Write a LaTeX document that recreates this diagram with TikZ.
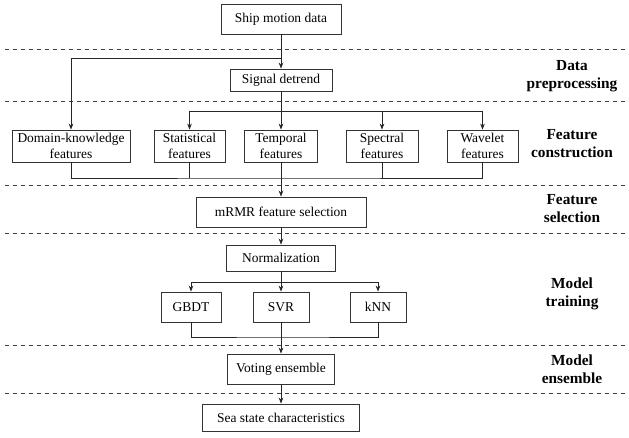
\documentclass[tikz,border=0pt]{standalone}
\usepackage{fontspec}
\setmainfont{Liberation Serif}
\usetikzlibrary{arrows.meta}
\begin{document}
\begin{tikzpicture}[x=0.75pt,y=-0.75pt,
        >={Stealth[length=4.5pt,width=3.5pt]},
        box/.style={draw=black!80,line width=0.65pt,align=center,inner sep=1pt,
            font=\fontsize{10.1}{11.6}\selectfont},
        stage/.style={align=center,font=\fontsize{11.5}{13.5}\selectfont\bfseries},
        link/.style={line width=0.6pt,black!85},
        sep/.style={dashed,line width=0.6pt,black!75}]
    \useasboundingbox (0,0) rectangle (629,437);
    % stage separators
    \foreach \y in {49.5,101.5,185,233,345,393}{
        \draw[sep] (5,\y) -- (627,\y);
    }
    % stage names
    \node[stage] (pre) at (572,76) {Data\\preprocessing};
    \node[stage] (con) at (572,144) {Feature\\construction};
    \node[stage] (sel) at (572,208.5) {Feature\\selection};
    \node[stage] (tra) at (572,294) {Model\\training};
    \node[stage] (ens) at (572,369.5) {Model\\ensemble};
    % boxes
    \node[box,minimum width=90pt,minimum height=22.5pt] (ship) at (281,19) {Ship motion data};
    \node[box,minimum width=76.5pt,minimum height=16.5pt] (detrend) at (281,80) {Signal detrend};
    \node[box,minimum width=88.5pt,minimum height=24pt] (domain) at (71,146) {Domain-knowledge\\features};
    \node[box,minimum width=53.25pt,minimum height=24pt] (stat) at (189.5,146) {Statistical\\features};
    \node[box,minimum width=54.75pt,minimum height=24pt] (temp) at (281,146) {Temporal\\features};
    \node[box,minimum width=54pt,minimum height=24pt] (spec) at (382,146) {Spectral\\features};
    \node[box,minimum width=53.25pt,minimum height=24pt] (wave) at (482.5,146) {Wavelet\\features};
    \node[box,minimum width=127.5pt,minimum height=22.5pt] (mrmr) at (281,212) {mRMR feature selection};
    \node[box,minimum width=81.75pt,minimum height=19.5pt] (norm) at (281,258) {Normalization};
    \node[box,minimum width=45pt,minimum height=22.5pt] (gbdt) at (191,307) {GBDT};
    \node[box,minimum width=42pt,minimum height=22.5pt] (svr) at (281,307) {SVR};
    \node[box,minimum width=42pt,minimum height=22.5pt] (knn) at (378,307) {kNN};
    \node[box,minimum width=80.25pt,minimum height=22.5pt] (vote) at (281,369) {Voting ensemble};
    \node[box,minimum width=117.75pt,minimum height=20.25pt] (sea) at (281,417.5) {Sea state characteristics};
    % junctions
    \coordinate (split) at (281,58);
    \coordinate (fan) at (281,111);
    \coordinate (merge) at (281,178);
    \coordinate (mfan) at (281,282);
    \coordinate (mmerge) at (281,337);
    % connectors
    \draw[link,->] (ship) -- (detrend);
    \draw[link,->] (split) -| (domain.north);
    \draw[link] (stat.north |- fan) -- (wave.north |- fan);
    \draw[link,->] (detrend) -- (temp);
    \foreach \n in {stat,spec,wave}{
        \draw[link,->] (\n.north |- fan) -- (\n.north);
    }
    \draw[link] (domain.south) |- (merge) -| (wave.south);
    \foreach \n in {stat,spec}{
        \draw[link] (\n.south) -- (\n.south |- merge);
    }
    \draw[link,->] (temp) -- (mrmr);
    \draw[link,->] (mrmr) -- (norm);
    \draw[link,->] (norm) -- (svr);
    \draw[link,->] (mfan) -| (gbdt.north);
    \draw[link,->] (mfan) -| (knn.north);
    \draw[link] (gbdt.south) |- (mmerge) -| (knn.south);
    \draw[link,->] (svr) -- (vote);
    \draw[link,->] (vote) -- (sea);
\end{tikzpicture}
\end{document}
